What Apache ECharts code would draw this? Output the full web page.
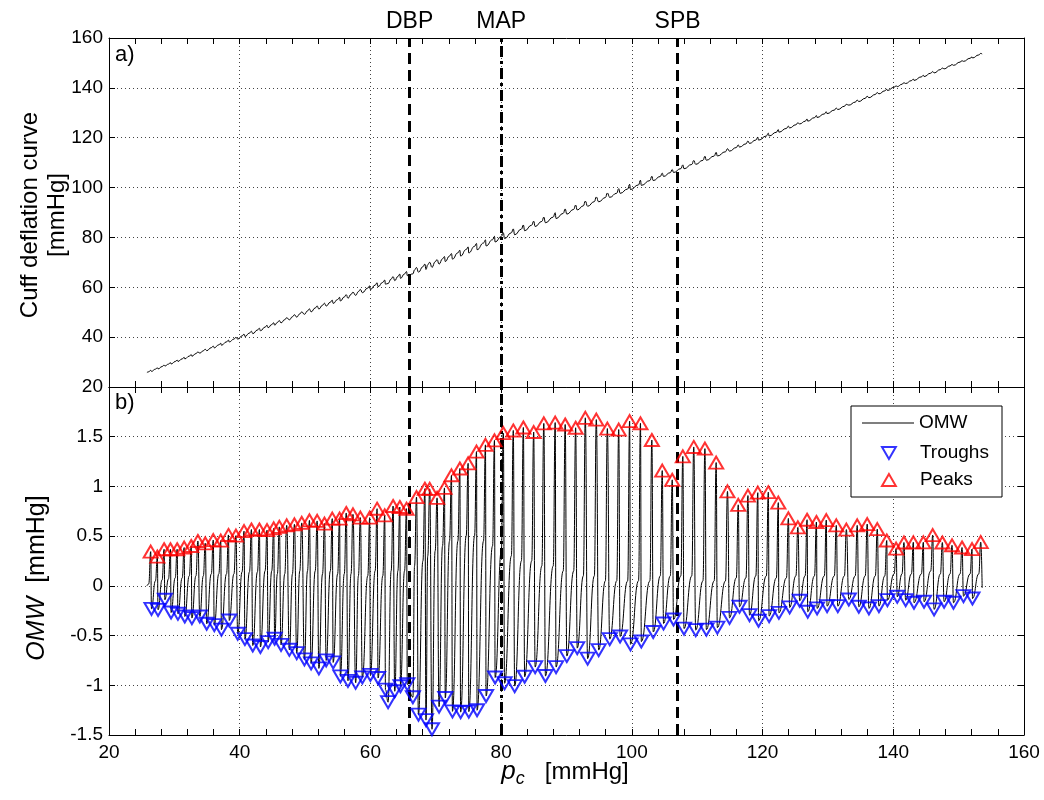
<!DOCTYPE html>
<html><head><meta charset="utf-8">
<script src="https://cdn.jsdelivr.net/npm/echarts@6/dist/echarts.min.js"></script>
<style>html,body{margin:0;padding:0;background:#fff}#c{width:1044px;height:800px}</style>
</head><body><div id="c"></div>
<script>
// ---- data ----
const xTicks = [20, 40, 60, 80, 100, 120, 140, 160];
const topTicks = [20, 40, 60, 80, 100, 120, 140, 160];
const bottomTicks = [-1.5, -1, -0.5, 0, 0.5, 1, 1.5];
const markNames = ['DBP', 'MAP', 'SPB'];
const markValues = [66, 80, 107];

const peakX = [26.38, 27.40, 28.43, 29.40, 30.43, 31.50, 32.58, 33.60, 34.73, 35.95, 37.10, 38.28, 39.42, 40.66, 41.79, 43.01, 44.18, 45.20,
  46.06, 47.19, 48.37, 49.49, 50.67, 51.85, 52.97, 54.16, 55.28, 56.30, 57.33, 58.46, 59.89, 61.02, 62.19, 63.47, 64.50, 65.52, 67.05, 68.33,
  69.07, 70.20, 71.33, 72.40, 73.68, 74.95, 76.23, 77.60, 78.98, 80.33, 81.86, 83.40, 84.98, 86.53, 88.27, 89.80, 91.40, 92.88, 94.56, 96.25,
  97.99, 99.66, 101.32, 103.06, 104.65, 106.18, 107.80, 109.47, 111.18, 112.90,
  114.63, 116.28, 117.76, 119.27, 120.88, 122.41, 123.95, 125.40, 126.81, 128.24, 129.75, 131.28, 132.82, 134.48, 136.01, 137.55, 139.00,
  140.43, 141.63, 143.07, 144.60, 146.03, 147.51, 148.99, 150.52, 152.05, 153.38];
const peakY = [0.344, 0.294, 0.368, 0.368, 0.368, 0.385, 0.401, 0.451, 0.428, 0.46, 0.455, 0.512, 0.505, 0.55, 0.567, 0.567, 0.56, 0.578,
  0.593, 0.609, 0.619, 0.633, 0.659, 0.653, 0.626, 0.676, 0.676, 0.733, 0.719, 0.686, 0.686, 0.776, 0.709, 0.803, 0.793, 0.776, 0.893, 0.977,
  0.975, 0.885, 0.985, 1.112, 1.18, 1.232, 1.35, 1.418, 1.463, 1.536, 1.563, 1.593, 1.547, 1.634, 1.642, 1.623, 1.59, 1.69, 1.672, 1.582,
  1.572, 1.657, 1.635, 1.467, 1.159, 1.066, 1.302, 1.397, 1.38, 1.24,
  0.95, 0.815, 0.908, 0.937, 0.942, 0.837, 0.678, 0.588, 0.665, 0.642, 0.661, 0.608, 0.566, 0.608, 0.621, 0.57, 0.456,
  0.375, 0.436, 0.438, 0.438, 0.51, 0.436, 0.408, 0.386, 0.37, 0.44];
// level of the waveform (dicrotic notch) just before each steep stroke to a peak
const notchY = [0.02, 0.05, 0.06, 0.07, 0.08, 0.08, 0.1, 0.1, 0.1, 0.12, 0.12, 0.12, 0.12, 0.14, 0.14, 0.14, 0.15, 0.15,
  0.12, 0.12, 0.12, 0.15, 0.15, 0.15, 0.12, 0.15, 0.12, 0.12, 0.12, 0.1, 0.1, 0.15, 0.1, 0.15, 0.15, 0.15, 0.2, 0.25,
  0.3, 0.35, 0.4, 0.45, 0.45, 0.5, 0.5, 0.45, 0.4, 0.35, 0.3, 0.25, 0.25, 0.2, 0.2, 0.15, 0.15, 0.1, 0.1, 0.05,
  0.05, 0.05, 0.05, 0.05, 0.1, 0.1, 0.1, 0.1, 0.05, 0.05,
  0.05, 0.08, 0.08, 0.1, 0.1, 0.08, 0.08, 0.1, 0.1, 0.1, 0.1, 0.1, 0.1, 0.1, 0.1, 0.1, 0.1,
  0.12, 0.12, 0.12, 0.12, 0.15, 0.12, 0.12, 0.12, 0.12, 0.12];
const troughX = [26.5, 27.5, 28.55, 29.5, 30.55, 31.6, 32.68, 33.90, 34.95, 36.11, 37.2, 38.40, 39.70, 40.80, 42.0, 43.17, 44.35, 45.35,
  46.32, 47.6, 48.72, 49.9, 50.92, 52.11, 53.23, 54.3, 55.4, 56.56, 57.74, 58.76, 59.99, 61.17, 62.3, 62.7, 63.72, 64.6, 65.65, 66.5, 67.35, 68.5,
  69.42, 70.5, 71.45, 72.55, 73.8, 75.05, 76.32, 77.7, 79.08, 80.53, 82.07, 83.6, 85.2, 86.78, 88.4, 90.05, 91.64, 93.23, 94.92, 96.61,
  98.2, 99.79, 101.45, 103.27, 104.85, 106.38, 107.98, 109.77, 111.4, 113.08,
  114.94, 116.47, 118.0, 119.39, 121.0, 122.5, 124.14, 125.68, 126.91, 128.34, 129.87, 131.51, 133.2, 134.73, 136.27, 137.8, 139.1,
  140.61, 141.89, 143.17, 144.71, 146.24, 147.78, 149.21, 150.74, 152.12];
const troughY = [-0.231, -0.241, -0.14, -0.268, -0.281, -0.308, -0.324, -0.308, -0.381, -0.395, -0.44, -0.348, -0.482, -0.535, -0.6, -0.615, -0.566, -0.532,
  -0.593, -0.643, -0.676, -0.74, -0.78, -0.83, -0.75, -0.77, -0.91, -0.955, -0.975, -0.92, -0.895, -0.927, -1.044, -1.17, -1.06, -1.01, -0.99, -1.12, -1.295, -1.35,
  -1.442, -1.215, -1.128, -1.262, -1.27, -1.265, -1.251, -1.108, -0.922, -0.98, -1.008, -0.914, -0.817, -0.907, -0.817, -0.706, -0.626, -0.732, -0.646, -0.536,
  -0.509, -0.588, -0.56, -0.464, -0.379, -0.338, -0.43, -0.445, -0.44, -0.42,
  -0.322, -0.21, -0.294, -0.351, -0.304, -0.271, -0.217, -0.15, -0.26, -0.227, -0.204, -0.204, -0.137, -0.21, -0.227, -0.204, -0.144,
  -0.11, -0.144, -0.17, -0.16, -0.237, -0.16, -0.17, -0.104, -0.127];
const startPoint = [25.8, 0.0];
const endPoint = [153.6, -0.02];

// ---- OMW trace: read points ordered along the pressure axis ----
const events = [];
peakX.forEach((x, i) => events.push({x: x, y: peakY[i], kind: 'p', n: notchY[i]}));
troughX.forEach((x, i) => events.push({x: x, y: troughY[i], kind: 't'}));
events.sort((a, b) => a.x - b.x);
const omw = [startPoint];
events.forEach(e => {
  const last = omw[omw.length - 1];
  if (e.kind === 'p' && e.x - 0.3 > last[0]) omw.push([e.x - 0.3, e.n]);
  omw.push([Math.max(e.x, last[0]), e.y]);
});
omw.push(endPoint);
// cuff pressure = deflation baseline (p_c) + oscillation
const cuff = omw.map(p => [p[0], p[0] + p[1]]);

const FONT = "'Liberation Sans', Arial, Helvetica, sans-serif";
const dotted = {type: [1, 3], color: '#444', width: 1};

function xAx(grid, pos, labels, split) {
  return {
    type: 'value', gridIndex: grid, position: pos, min: 20, max: 160, interval: 20,
    axisLine: {show: true, onZero: false, lineStyle: {color: '#000', width: 1}},
    axisTick: {show: true, inside: true, length: 6, lineStyle: {color: '#000'}},
    minorTick: {show: true, splitNumber: 5, length: 6, lineStyle: {color: '#000'}},
    axisLabel: {show: labels, color: '#000', fontSize: 19, fontFamily: FONT, margin: 8},
    splitLine: {show: split, lineStyle: dotted}
  };
}
function yAx(grid, pos, min, max, interval, labels, split) {
  return {
    type: 'value', gridIndex: grid, position: pos, min: min, max: max, interval: interval,
    axisLine: {show: true, onZero: false, lineStyle: {color: '#000', width: 1}},
    axisTick: {show: true, inside: true, length: 6, lineStyle: {color: '#000'}},
    axisLabel: {show: labels, color: '#000', fontSize: 19, fontFamily: FONT, margin: 6, showMaxLabel: grid === 0},
    splitLine: {show: split, lineStyle: dotted}
  };
}

function vLines(withLabel) {
  return {
    symbol: 'none', silent: true, animation: false,
    label: withLabel ? {show: true, position: 'end', formatter: '{b}', color: '#000', fontSize: 23, fontFamily: FONT, distance: 5} : {show: false},
    data: markNames.map((n, i) => ({
      name: n, xAxis: markValues[i],
      lineStyle: {color: '#000', width: 3, type: n === 'MAP' ? [11, 4, 3, 4] : [11, 6]}
    }))
  };
}

const upTri = 'path://M5,0 L10,8.66 L0,8.66 Z';
const downTri = 'path://M0,0 L10,0 L5,8.66 Z';

const option = {
  animation: false,
  backgroundColor: '#fff',
  grid: [
    {left: 109, right: 20, top: 38, height: 349},
    {left: 109, right: 20, top: 387, height: 348}
  ],
  xAxis: [xAx(0, 'bottom', false, true), xAx(0, 'top', false, false), xAx(1, 'bottom', true, true), xAx(1, 'top', false, false)],
  yAxis: [yAx(0, 'left', 20, 160, 20, true, true), yAx(0, 'right', 20, 160, 20, false, false),
          yAx(1, 'left', -1.5, 2, 0.5, true, true), yAx(1, 'right', -1.5, 2, 0.5, false, false)],
  legend: [
    {left: 862, top: 413, orient: 'vertical', itemWidth: 52, itemHeight: 1, padding: 0, z: 60,
     textStyle: {fontSize: 19, fontFamily: FONT, color: '#000', lineHeight: 20},
     data: [{name: 'OMW', icon: 'rect', itemStyle: {color: '#000'}}]},
    {left: 881, top: 443, orient: 'vertical', itemWidth: 14, itemHeight: 12, itemGap: 7, padding: 0, z: 60,
     textStyle: {fontSize: 19, fontFamily: FONT, color: '#000', lineHeight: 20, padding: [0, 0, 0, 19]},
     data: [{name: 'Troughs', icon: downTri}, {name: 'Peaks', icon: upTri}]}
  ],
  graphic: [
    {type: 'rect', z: 50, shape: {x: 851, y: 406, width: 151, height: 91}, style: {fill: '#fff', stroke: '#000', lineWidth: 1}},
    {type: 'text', left: 115, top: 44, style: {text: 'a)', font: '22px ' + FONT, fill: '#000'}},
    {type: 'text', left: 115, top: 392, style: {text: 'b)', font: '22px ' + FONT, fill: '#000'}},
    {type: 'text', x: 30, y: 215, rotation: Math.PI / 2, style: {text: 'Cuff deflation curve', font: '24px ' + FONT, fill: '#000', align: 'center', verticalAlign: 'middle'}},
    {type: 'text', x: 57, y: 215, rotation: Math.PI / 2, style: {text: '[mmHg]', font: '24px ' + FONT, fill: '#000', align: 'center', verticalAlign: 'middle'}},
    {type: 'text', x: 37, y: 578, rotation: Math.PI / 2, style: {
      text: '{i|OMW}{n|  [mmHg]}', align: 'center', verticalAlign: 'middle',
      rich: {i: {font: 'italic 25px ' + FONT, fill: '#000'}, n: {font: '25px ' + FONT, fill: '#000'}}}},
    {type: 'text', x: 565, y: 772, style: {
      text: '{i|p}{s|c}{n|   [mmHg]}', align: 'center', verticalAlign: 'middle',
      rich: {i: {font: 'italic 26px ' + FONT, fill: '#000'}, s: {font: 'italic 18px ' + FONT, fill: '#000', verticalAlign: 'bottom', padding: [14, 0, 0, 0]}, n: {font: '24px ' + FONT, fill: '#000'}}}}
  ],
  series: [
    {type: 'line', name: 'cuff', xAxisIndex: 0, yAxisIndex: 0, data: cuff, showSymbol: false, symbol: 'none',
     smooth: 0.5, smoothMonotone: 'x', lineStyle: {color: '#000', width: 1}, z: 3},
    {type: 'line', name: 'marks-top', xAxisIndex: 0, yAxisIndex: 0, data: [], markLine: vLines(true), z: 6},
    {type: 'line', name: 'OMW', xAxisIndex: 2, yAxisIndex: 2, data: omw, showSymbol: false, symbol: 'none',
     smooth: 0.5, smoothMonotone: 'x', itemStyle: {color: '#000'}, lineStyle: {color: '#000', width: 1}, z: 3},
    {type: 'line', name: 'marks-bottom', xAxisIndex: 2, yAxisIndex: 2, data: [], markLine: vLines(false), z: 6},
    {type: 'scatter', name: 'Troughs', xAxisIndex: 2, yAxisIndex: 2, data: troughX.map((x, i) => [x, troughY[i]]),
     symbol: 'triangle', symbolRotate: 180, symbolSize: [14, 12],
     itemStyle: {color: 'rgba(255,255,255,0)', borderColor: '#0000ff', borderWidth: 2}, z: 7},
    {type: 'scatter', name: 'Peaks', xAxisIndex: 2, yAxisIndex: 2, data: peakX.map((x, i) => [x, peakY[i]]),
     symbol: 'triangle', symbolSize: [14, 12],
     itemStyle: {color: 'rgba(255,255,255,0)', borderColor: '#ff0000', borderWidth: 2}, z: 7}
  ]
};
const chart = echarts.init(document.getElementById('c'));
chart.setOption(option);
</script></body></html>
